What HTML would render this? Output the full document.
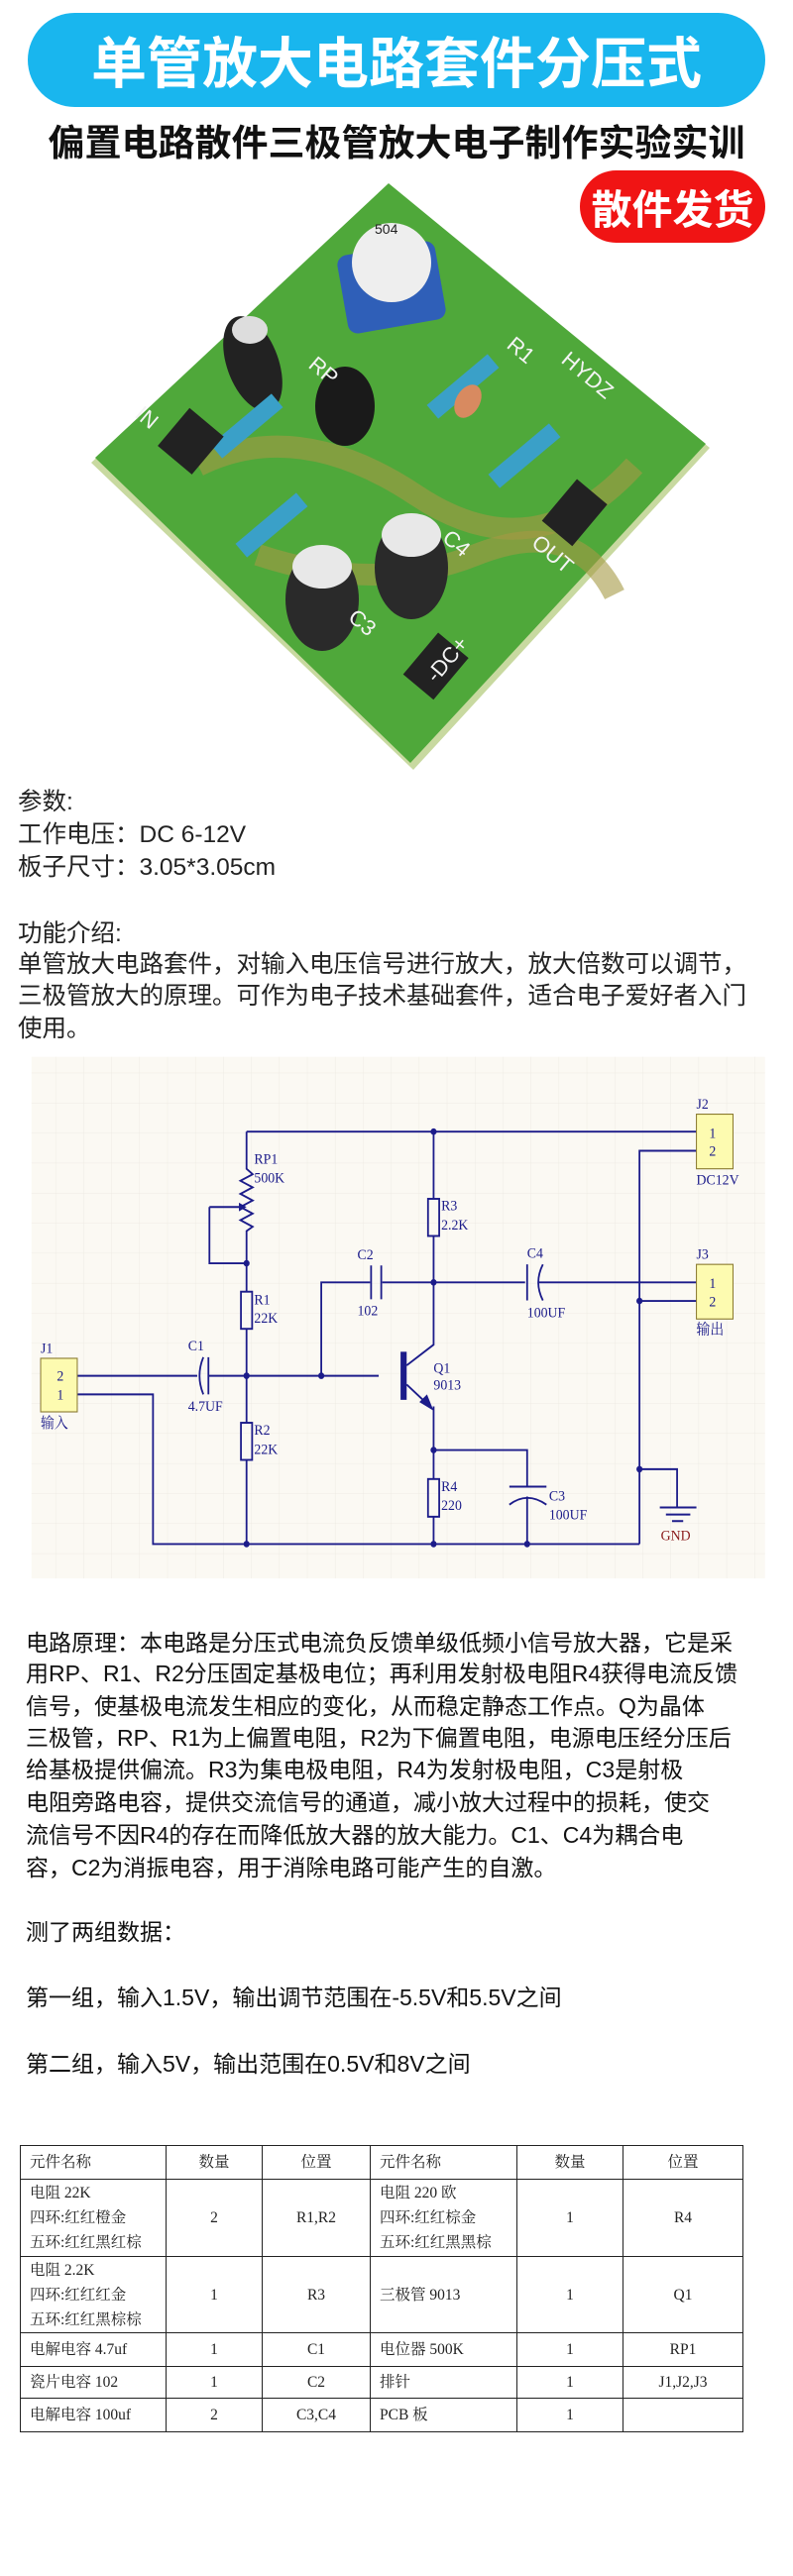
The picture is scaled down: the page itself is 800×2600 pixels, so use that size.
<!DOCTYPE html>
<html><head><meta charset="utf-8">
<style>
html,body{margin:0;padding:0;background:#fff;}
body{width:800px;height:2600px;position:relative;overflow:hidden;font-family:"Liberation Sans","Noto Sans CJK SC",sans-serif;}
.abs{position:absolute;white-space:nowrap;}
.t{font-size:24.5px;color:#222;line-height:30px;}
.p{font-size:23px;color:#111;line-height:30px;left:26px;}
table{position:absolute;left:20px;top:2165px;border-collapse:collapse;font-family:"Liberation Serif","Noto Serif CJK SC",serif;font-size:15.5px;color:#222;}
td{border:1.3px solid #222;padding:0 0 0 9px;line-height:25px;vertical-align:middle;}
td.c{text-align:center;padding:0;}
</style></head><body>

<div class="abs" style="left:28px;top:13px;width:744px;height:95px;border-radius:48px;background:#19b6ee;"></div>
<div class="abs" style="left:28px;top:13px;width:744px;height:95px;line-height:95px;text-align:center;color:#fff;font-size:56px;font-weight:bold;font-family:'Noto Sans CJK SC',sans-serif;">单管放大电路套件分压式</div>
<div class="abs" style="left:0;top:118px;width:800px;text-align:center;font-size:37px;font-weight:bold;color:#111;line-height:46px;font-family:'Noto Sans CJK SC',sans-serif;">偏置电路散件三极管放大电子制作实验实训</div>
<div class="abs" style="left:585px;top:172px;width:187px;height:73px;border-radius:37px;background:#f01414;color:#fff;font-size:41px;line-height:73px;text-align:center;font-weight:bold;font-family:'Noto Sans CJK SC',sans-serif;">散件发货</div>

<svg class="abs" style="left:0;top:170px" width="800" height="630" viewBox="0 170 800 630">
<polygon points="392,187 716,452 417,777 92,467" fill="#c8d9a0"/>
<polygon points="392,185 712,448 414,770 96,462" fill="#4fa83a"/>
<path d="M200,470 Q300,420 420,500 T640,470" stroke="#a59a45" stroke-width="22" fill="none" opacity=".6"/>
<path d="M260,560 Q380,600 480,560 T620,600" stroke="#a59a45" stroke-width="22" fill="none" opacity=".6"/>
<rect x="345" y="250" width="100" height="80" rx="10" fill="#2f5fb8" transform="rotate(-10 395 290)"/>
<circle cx="395" cy="265" r="40" fill="#eee"/>
<text x="378" y="236" font-size="14" fill="#222" font-family="Liberation Sans">504</text>
<ellipse cx="255" cy="367" rx="26" ry="50" fill="#222" transform="rotate(-20 255 367)"/>
<ellipse cx="252" cy="333" rx="18" ry="14" fill="#ddd"/>
<ellipse cx="348" cy="410" rx="30" ry="40" fill="#1a1a1a"/>
<ellipse cx="415" cy="573" rx="37" ry="52" fill="#2a2a2a"/>
<ellipse cx="415" cy="540" rx="30" ry="22" fill="#e8e8e8"/>
<ellipse cx="325" cy="605" rx="37" ry="52" fill="#2a2a2a"/>
<ellipse cx="325" cy="572" rx="30" ry="22" fill="#e8e8e8"/>
<rect x="240" y="390" width="18" height="80" fill="#3aa0c8" transform="rotate(50 249 430)"/>
<rect x="458" y="350" width="18" height="80" fill="#3aa0c8" transform="rotate(50 467 390)"/>
<rect x="520" y="420" width="18" height="80" fill="#3aa0c8" transform="rotate(50 529 460)"/>
<rect x="265" y="490" width="18" height="80" fill="#3aa0c8" transform="rotate(50 274 530)"/>
<rect x="170" y="420" width="45" height="50" fill="#222" transform="rotate(40 192 445)"/>
<rect x="560" y="490" width="40" height="55" fill="#222" transform="rotate(40 580 517)"/>
<rect x="420" y="645" width="40" height="55" fill="#222" transform="rotate(40 440 672)"/>
<ellipse cx="472" cy="405" rx="12" ry="18" fill="#d88a60" transform="rotate(30 472 405)"/>
<g fill="#f4f4f4" font-family="Liberation Sans" font-size="22">
<text x="565" y="365" transform="rotate(40 565 365)">HYDZ</text>
<text x="535" y="550" transform="rotate(40 535 550)">OUT</text>
<text x="135" y="420" transform="rotate(40 135 420)">IN</text>
<text x="350" y="625" transform="rotate(40 350 625)">C3</text>
<text x="445" y="545" transform="rotate(40 445 545)">C4</text>
<text x="510" y="350" transform="rotate(40 510 350)">R1</text>
<text x="310" y="370" transform="rotate(40 310 370)">RP</text>
<text x="440" y="690" transform="rotate(-50 440 690)">-DC+</text>
</g>
</svg>

<div class="abs t" style="left:18px;top:795px;">参数:</div>
<div class="abs t" style="left:18px;top:828px;">工作电压：DC 6-12V</div>
<div class="abs t" style="left:18px;top:861px;">板子尺寸：3.05*3.05cm</div>
<div class="abs t" style="left:18px;top:928px;">功能介绍:</div>
<div class="abs t" style="left:18px;top:959px;">单管放大电路套件，对输入电压信号进行放大，放大倍数可以调节，</div>
<div class="abs t" style="left:18px;top:991px;">三极管放大的原理。可作为电子技术基础套件，适合电子爱好者入门</div>
<div class="abs t" style="left:18px;top:1024px;">使用。</div>

<svg class="abs" style="left:0;top:780px" width="800" height="860" viewBox="0 0 1560 1560" preserveAspectRatio="none">
<defs><pattern id="g" width="55" height="55" patternUnits="userSpaceOnUse"><path d="M55 0V55H0" fill="none" stroke="#ebe8e0" stroke-width="1.5"/></pattern></defs>
<rect x="62" y="520" width="1443" height="955" fill="#fbf9f3"/>
<rect x="62" y="520" width="1443" height="955" fill="url(#g)"/>
<g stroke="#1c1c8a" stroke-width="3.5" fill="none">
<path d="M485,657H1370 M1370,692H1258V1412 M1258,967H1370 M1258,1275H1332V1345"/>
<path d="M485,657V725 l12,10 -24,12 24,12 -24,12 24,12 -24,12 24,12 -24,12 24,12 -12,8 V898"/>
<path d="M412,795H470 M412,795V898H485 M485,898V950 M485,1018V1190 M485,1258V1412"/>
<rect x="474" y="950" width="22" height="68"/><rect x="474" y="1190" width="22" height="68"/>
<rect x="842" y="780" width="22" height="68"/><rect x="842" y="1293" width="22" height="69"/>
<path d="M152,1104H388 M410,1104H745 M152,1138H301V1412H1258"/>
<path d="M400,1070 Q385,1104 400,1138"/><path d="M410,1070V1138"/>
<path d="M632,1104V933H728 M752,933H1033 M1060,933H1370"/>
<path d="M730,902V964 M750,902V964"/>
<path d="M1037,900V966"/><path d="M1068,900 Q1050,933 1068,966"/>
<path d="M853,657V780 M853,848V1047L800,1085 M800,1120L840,1155 M853,1160V1293 M853,1362V1412 M853,1240H1037V1307 M1037,1325V1412"/>
<path d="M1002,1307H1075"/><path d="M1002,1340 Q1037,1315 1075,1340"/>
<path d="M1298,1345H1370 M1310,1358H1358 M1322,1370H1344"/>
</g>
<rect x="788" y="1060" width="12" height="88" fill="#1c1c8a"/>
<polygon points="853,1168 825,1152 840,1138" fill="#1c1c8a"/>
<polygon points="470,787 485,795 470,803" fill="#1c1c8a"/>
<g fill="#1c1c8a"><circle cx="853" cy="657" r="6"/><circle cx="485" cy="898" r="6"/><circle cx="485" cy="1104" r="6"/><circle cx="632" cy="1104" r="6"/><circle cx="853" cy="933" r="6"/><circle cx="1258" cy="967" r="6"/><circle cx="1258" cy="1275" r="6"/><circle cx="853" cy="1240" r="6"/><circle cx="485" cy="1412" r="6"/><circle cx="853" cy="1412" r="6"/><circle cx="1037" cy="1412" r="6"/></g>
<g fill="#fdfbb0" stroke="#8a7a30" stroke-width="2"><rect x="1370" y="625" width="72" height="100"/><rect x="1370" y="900" width="72" height="100"/><rect x="80" y="1072" width="72" height="98"/></g>
<g font-family="Liberation Serif,Noto Serif CJK SC,serif" font-size="27" fill="#1c1c8a">
<text x="1395" y="668">1</text><text x="1395" y="701">2</text><text x="1395" y="943">1</text><text x="1395" y="977">2</text>
<text x="112" y="1113">2</text><text x="112" y="1147">1</text>
<text x="1370" y="615">J2</text><text x="1370" y="754">DC12V</text><text x="1370" y="890">J3</text><text x="1370" y="1028">输出</text>
<text x="80" y="1062">J1</text><text x="80" y="1199">输入</text>
<text x="500" y="716">RP1</text><text x="500" y="750">500K</text>
<text x="500" y="973">R1</text><text x="500" y="1007">22K</text>
<text x="500" y="1212">R2</text><text x="500" y="1247">22K</text>
<text x="868" y="801">R3</text><text x="868" y="836">2.2K</text>
<text x="868" y="1315">R4</text><text x="868" y="1350">220</text>
<text x="370" y="1058">C1</text><text x="370" y="1168">4.7UF</text>
<text x="703" y="891">C2</text><text x="703" y="993">102</text>
<text x="1037" y="888">C4</text><text x="1037" y="997">100UF</text>
<text x="1080" y="1332">C3</text><text x="1080" y="1367">100UF</text>
<text x="853" y="1098">Q1</text><text x="853" y="1129">9013</text>
<text x="1300" y="1405" fill="#8a1a1a">GND</text>
</g>
</svg>

<div class="abs p" style="top:1643px;">电路原理：本电路是分压式电流负反馈单级低频小信号放大器，它是采</div>
<div class="abs p" style="top:1674px;">用RP、R1、R2分压固定基极电位；再利用发射极电阻R4获得电流反馈</div>
<div class="abs p" style="top:1707px;">信号，使基极电流发生相应的变化，从而稳定静态工作点。Q为晶体</div>
<div class="abs p" style="top:1739px;">三极管，RP、R1为上偏置电阻，R2为下偏置电阻，电源电压经分压后</div>
<div class="abs p" style="top:1771px;">给基极提供偏流。R3为集电极电阻，R4为发射极电阻，C3是射极</div>
<div class="abs p" style="top:1804px;">电阻旁路电容，提供交流信号的通道，减小放大过程中的损耗，使交</div>
<div class="abs p" style="top:1837px;">流信号不因R4的存在而降低放大器的放大能力。C1、C4为耦合电</div>
<div class="abs p" style="top:1870px;">容，C2为消振电容，用于消除电路可能产生的自激。</div>
<div class="abs p" style="top:1935px;">测了两组数据：</div>
<div class="abs p" style="top:2001px;">第一组，输入1.5V，输出调节范围在-5.5V和5.5V之间</div>
<div class="abs p" style="top:2068px;">第二组，输入5V，输出范围在0.5V和8V之间</div>

<table>
<tr style="height:34px"><td style="width:137px">元件名称</td><td class="c" style="width:96px">数量</td><td class="c" style="width:108px">位置</td><td style="width:138px">元件名称</td><td class="c" style="width:106px">数量</td><td class="c" style="width:120px">位置</td></tr>
<tr style="height:78px"><td>电阻 22K<br>四环:红红橙金<br>五环:红红黑红棕</td><td class="c">2</td><td class="c">R1,R2</td><td>电阻 220 欧<br>四环:红红棕金<br>五环:红红黑黑棕</td><td class="c">1</td><td class="c">R4</td></tr>
<tr style="height:77px"><td>电阻 2.2K<br>四环:红红红金<br>五环:红红黑棕棕</td><td class="c">1</td><td class="c">R3</td><td>三极管 9013</td><td class="c">1</td><td class="c">Q1</td></tr>
<tr style="height:34px"><td>电解电容 4.7uf</td><td class="c">1</td><td class="c">C1</td><td>电位器 500K</td><td class="c">1</td><td class="c">RP1</td></tr>
<tr style="height:32px"><td>瓷片电容 102</td><td class="c">1</td><td class="c">C2</td><td>排针</td><td class="c">1</td><td class="c">J1,J2,J3</td></tr>
<tr style="height:34px"><td>电解电容 100uf</td><td class="c">2</td><td class="c">C3,C4</td><td>PCB 板</td><td class="c">1</td><td class="c"></td></tr>
</table>
</body></html>
